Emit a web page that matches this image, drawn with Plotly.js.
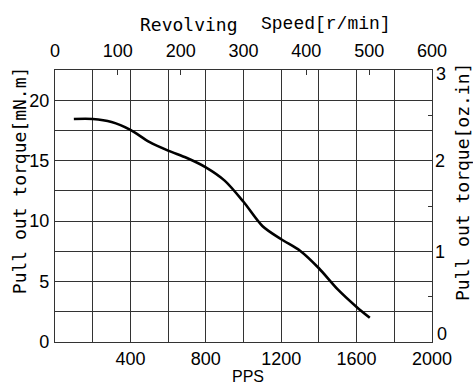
<!DOCTYPE html>
<html>
<head>
<meta charset="utf-8">
<script src="https://cdn.plot.ly/plotly-3.0.1.min.js"></script>
<style>html,body{margin:0;padding:0;background:#fff;}</style>
</head>
<body>
<div id="chart" style="width:473px;height:387px;"></div>
<script>
// Pulse rate (PPS) and pull-out torque (mN.m)
var pps = [100, 200, 300, 400, 500, 600, 700, 800, 900, 1000, 1100, 1200, 1300, 1400, 1500, 1600, 1670];
var torque = [18.45, 18.45, 18.2, 17.55, 16.55, 15.83, 15.22, 14.45, 13.35, 11.6, 9.6, 8.5, 7.55, 6.1, 4.35, 2.9, 2.0];

var ppsTicks = [0, 200, 400, 600, 800, 1000, 1200, 1400, 1600, 1800, 2000];
var ppsLabels = ['', '', '400', '', '800', '', '1200', '', '1600', '', '2000'];
var rpmTicks = [0, 100, 200, 300, 400, 500, 600];
var mNmTicks = [0, 2.5, 5, 7.5, 10, 12.5, 15, 17.5, 20, 22.5];
var mNmLabels = ['0', '', '5', '', '10', '', '15', '', '20', ''];
var ozinTicks = [0, 1, 2, 3];
var ozinLabels = ['', '1', '2', ''];

var gothic = 'DejaVu Sans Mono, monospace';
var mincho = '"Liberation Mono", "Courier New", "DejaVu Serif", serif';
var sans = 'Liberation Sans, Arial, sans-serif';

var traces = [
  {x: pps, y: torque, mode: 'lines', line: {color: '#000', width: 2.6, shape: 'spline', smoothing: 0.8},
   xaxis: 'x', yaxis: 'y', showlegend: false, hoverinfo: 'skip'},
  {x: [null], y: [null], mode: 'lines', xaxis: 'x2', yaxis: 'y2', showlegend: false, hoverinfo: 'skip'}
];

var layout = {
  width: 473, height: 387,
  margin: {l: 55, r: 41, t: 70, b: 45},
  paper_bgcolor: '#fff', plot_bgcolor: '#fff',
  font: {family: sans, size: 18, color: '#000'},
  xaxis: {
    range: [0, 2000], tickmode: 'array', tickvals: ppsTicks, ticktext: ppsLabels,
    showgrid: true, gridcolor: '#333', gridwidth: 1, zeroline: false,
    showline: true, linecolor: '#333', linewidth: 1.2, mirror: true, ticks: '',
    tickfont: {family: sans, size: 18, color: '#000'}, fixedrange: true
  },
  yaxis: {
    range: [0, 22.5], tickmode: 'array', tickvals: mNmTicks, ticktext: mNmLabels,
    showgrid: true, gridcolor: '#333', gridwidth: 1, zeroline: false,
    showline: true, linecolor: '#333', linewidth: 1.2, mirror: true, ticks: '',
    tickfont: {family: sans, size: 18, color: '#000'}, ticklabelstandoff: 1, fixedrange: true
  },
  xaxis2: {
    overlaying: 'x', side: 'top', anchor: 'y', range: [0, 600], tickmode: 'array', tickvals: rpmTicks,
    showgrid: false, zeroline: false, showline: false, ticks: 'inside', ticklen: 5, tickcolor: '#333', tickwidth: 1,
    tickfont: {family: sans, size: 18, color: '#000'}, ticklabelstandoff: 8, fixedrange: true
  },
  yaxis2: {
    overlaying: 'y', side: 'right', anchor: 'x', range: [0, 3], tickmode: 'array', tickvals: ozinTicks, ticktext: ozinLabels,
    showgrid: false, zeroline: false, showline: false, ticks: 'inside', ticklen: 5, tickcolor: '#333', tickwidth: 1,
    minor: {dtick: 0.5, tick0: 0, ticks: 'inside', ticklen: 4, tickcolor: '#333', showgrid: false},
    tickfont: {family: sans, size: 18, color: '#000'}, ticklabelstandoff: 2, fixedrange: true
  },
  annotations: [
    {text: 'Revolving', xref: 'paper', yref: 'paper', x: 0.490, y: 1.169, xanchor: 'right', yanchor: 'middle',
     showarrow: false, font: {family: gothic, size: 18, color: '#000'}},
    {text: 'Speed[r/min]', xref: 'paper', yref: 'paper', x: 0.540, y: 1.169, xanchor: 'left', yanchor: 'middle',
     showarrow: false, font: {family: mincho, size: 18, color: '#000'}},
    {text: 'Pull out torque[mN.m]', xref: 'paper', yref: 'paper', x: -0.092, y: 0.596,
     xanchor: 'center', yanchor: 'middle', textangle: -90, showarrow: false,
     font: {family: gothic, size: 18, color: '#000'}},
    {text: 'Pull out torque[oz.in]', xref: 'paper', yref: 'paper', x: 1.0796, y: 0.588,
     xanchor: 'center', yanchor: 'middle', textangle: -90, showarrow: false,
     font: {family: gothic, size: 18, color: '#000'}},
    {text: '3', xref: 'paper', yref: 'y2', x: 1, y: 3, xanchor: 'left', yanchor: 'middle',
     xshift: 2, yshift: -4, showarrow: false, font: {family: sans, size: 18, color: '#000'}},
    {text: '0', xref: 'paper', yref: 'y2', x: 1, y: 0, xanchor: 'left', yanchor: 'middle',
     xshift: 3, yshift: 8, showarrow: false, font: {family: sans, size: 18, color: '#000'}},
    {text: 'PPS', xref: 'paper', yref: 'paper', x: 0.512, y: -0.128,
     xanchor: 'center', yanchor: 'middle', showarrow: false,
     font: {family: sans, size: 16, color: '#000'}}
  ]
};

Plotly.newPlot('chart', traces, layout, {staticPlot: true, displayModeBar: false});
</script>
</body>
</html>
